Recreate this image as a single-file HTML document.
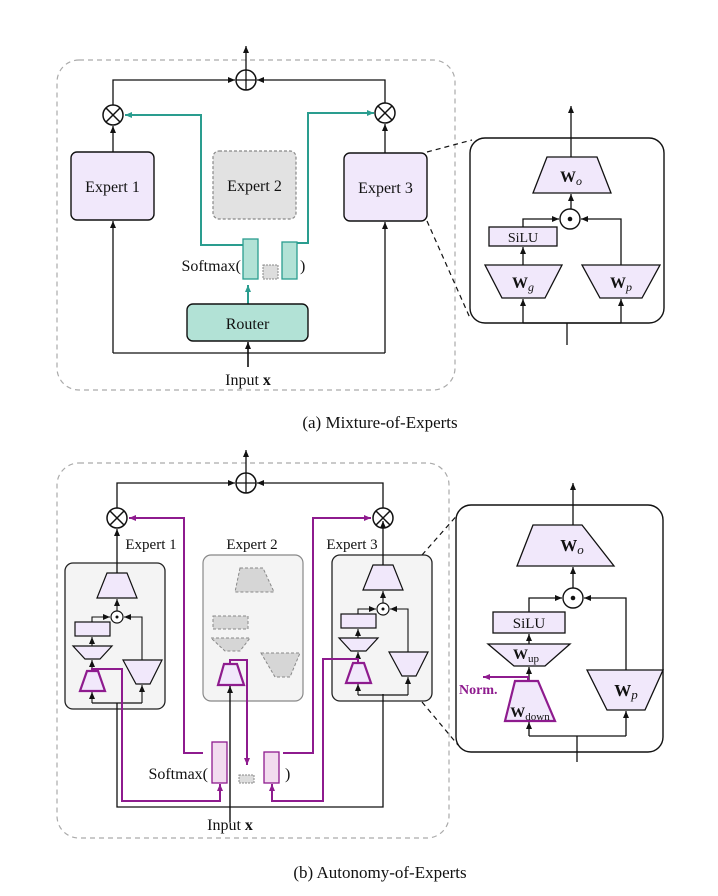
<!DOCTYPE html>
<html><head><meta charset="utf-8"><style>
html,body{margin:0;padding:0;background:#fff}
svg{display:block}
text{font-family:"Liberation Serif",serif;fill:#111}
</style></head><body>
<svg width="718" height="896" viewBox="0 0 718 896" xmlns="http://www.w3.org/2000/svg">
<defs>
<marker id="a" markerUnits="userSpaceOnUse" markerWidth="8" markerHeight="8" refX="7" refY="4" orient="auto"><path d="M0,1 L7,4 L0,7 z" fill="#111"/></marker>
<marker id="t" markerUnits="userSpaceOnUse" markerWidth="8" markerHeight="8" refX="7" refY="4" orient="auto"><path d="M0,1 L7,4 L0,7 z" fill="#2a9d8f"/></marker>
<marker id="p" markerUnits="userSpaceOnUse" markerWidth="8" markerHeight="8" refX="7" refY="4" orient="auto"><path d="M0,1 L7,4 L0,7 z" fill="#8e1b8e"/></marker>
</defs>

<!-- ============ TOP PANEL ============ -->
<rect x="57" y="60" width="398" height="330" rx="22" fill="none" stroke="#aaa" stroke-width="1.2" stroke-dasharray="5,4"/>
<!-- sum -->
<line x1="246" y1="70" x2="246" y2="46" stroke="#111" stroke-width="1.3" marker-end="url(#a)"/>
<path d="M113,105 V80 H235" fill="none" stroke="#111" stroke-width="1.3" marker-end="url(#a)"/>
<path d="M385,103 V80 H257" fill="none" stroke="#111" stroke-width="1.3" marker-end="url(#a)"/>
<circle cx="246" cy="80" r="10" fill="#fff" stroke="#111" stroke-width="1.5"/>
<path d="M236,80 H256 M246,70 V90" stroke="#111" stroke-width="1.3"/>
<!-- otimes -->
<g stroke="#111" stroke-width="1.5" fill="#fff">
<circle cx="113" cy="115" r="10"/><path d="M106,108 L120,122 M120,108 L106,122"/>
<circle cx="385" cy="113" r="10"/><path d="M378,106 L392,120 M392,106 L378,120"/>
</g>
<line x1="113" y1="152" x2="113" y2="126" stroke="#111" stroke-width="1.3" marker-end="url(#a)"/>
<line x1="385" y1="153" x2="385" y2="124" stroke="#111" stroke-width="1.3" marker-end="url(#a)"/>
<!-- experts -->
<rect x="71" y="152" width="83" height="68" rx="6" fill="#f1e8fb" stroke="#111" stroke-width="1.4"/>
<text x="112.5" y="192" font-size="16" text-anchor="middle">Expert 1</text>
<rect x="213" y="151" width="83" height="68" rx="6" fill="#e2e2e2" stroke="#888" stroke-width="1.2" stroke-dasharray="3,2"/>
<text x="254.5" y="191" font-size="16" text-anchor="middle">Expert 2</text>
<rect x="344" y="153" width="83" height="68" rx="6" fill="#f1e8fb" stroke="#111" stroke-width="1.4"/>
<text x="385.5" y="193" font-size="16" text-anchor="middle">Expert 3</text>
<!-- teal -->
<path d="M243,245 H201 V115 H125" fill="none" stroke="#2a9d8f" stroke-width="2" marker-end="url(#t)"/>
<path d="M297,243 H308 V113 H374" fill="none" stroke="#2a9d8f" stroke-width="2" marker-end="url(#t)"/>
<rect x="243" y="239" width="15" height="40" fill="#b2e2d6" stroke="#2a9d8f" stroke-width="1.3"/>
<rect x="263" y="265" width="15" height="14" fill="#ddd" stroke="#888" stroke-width="1" stroke-dasharray="2,1"/>
<rect x="282" y="242" width="15" height="37" fill="#b2e2d6" stroke="#2a9d8f" stroke-width="1.3"/>
<text x="241" y="271" font-size="16" text-anchor="end">Softmax(</text>
<text x="300" y="271" font-size="16">)</text>
<line x1="248" y1="304" x2="248" y2="285" stroke="#2a9d8f" stroke-width="2" marker-end="url(#t)"/>
<rect x="187" y="304" width="121" height="37" rx="6" fill="#b2e2d6" stroke="#111" stroke-width="1.4"/>
<text x="247.5" y="329" font-size="16" text-anchor="middle">Router</text>
<!-- bottom lines -->
<path d="M113,353 H385" fill="none" stroke="#111" stroke-width="1.3"/>
<line x1="113" y1="353" x2="113" y2="221" stroke="#111" stroke-width="1.3" marker-end="url(#a)"/>
<line x1="385" y1="353" x2="385" y2="222" stroke="#111" stroke-width="1.3" marker-end="url(#a)"/>
<line x1="248" y1="367" x2="248" y2="342" stroke="#111" stroke-width="1.6" marker-end="url(#a)"/>
<text x="248" y="385" font-size="16" text-anchor="middle">Input <tspan font-weight="bold">x</tspan></text>
<!-- zoom dashes -->
<path d="M427,152 L472,140 M427,221 L470,318" stroke="#111" stroke-width="1.2" stroke-dasharray="5,4"/>
<!-- detail top -->
<rect x="470" y="138" width="194" height="185" rx="15" fill="#fff" stroke="#111" stroke-width="1.4"/>
<line x1="571" y1="157" x2="571" y2="106" stroke="#111" stroke-width="1.3" marker-end="url(#a)"/>
<polygon points="547,157 597,157 611,193 533,193" fill="#f1e8fb" stroke="#111" stroke-width="1.3"/>
<text x="571" y="182" font-size="16" text-anchor="middle"><tspan font-weight="bold">W</tspan><tspan font-style="italic" font-size="12" dy="3">o</tspan></text>
<line x1="571" y1="209" x2="571" y2="194" stroke="#111" stroke-width="1.3" marker-end="url(#a)"/>
<path d="M523,227 V219 H559" fill="none" stroke="#111" stroke-width="1.3" marker-end="url(#a)"/>
<path d="M621,265 V219 H581" fill="none" stroke="#111" stroke-width="1.3" marker-end="url(#a)"/>
<circle cx="570" cy="219" r="10" fill="#fff" stroke="#111" stroke-width="1.4"/>
<circle cx="570" cy="219" r="2.3" fill="#111"/>
<rect x="489" y="227" width="68" height="19" fill="#f1e8fb" stroke="#111" stroke-width="1.3"/>
<text x="523" y="242" font-size="14" text-anchor="middle">SiLU</text>
<line x1="523" y1="265" x2="523" y2="247" stroke="#111" stroke-width="1.3" marker-end="url(#a)"/>
<polygon points="485,265 562,265 545,298 502,298" fill="#f1e8fb" stroke="#111" stroke-width="1.3"/>
<text x="523" y="288" font-size="16" text-anchor="middle"><tspan font-weight="bold">W</tspan><tspan font-style="italic" font-size="12" dy="3">g</tspan></text>
<polygon points="582,265 660,265 642,298 600,298" fill="#f1e8fb" stroke="#111" stroke-width="1.3"/>
<text x="621" y="288" font-size="16" text-anchor="middle"><tspan font-weight="bold">W</tspan><tspan font-style="italic" font-size="12" dy="3">p</tspan></text>
<path d="M523,323 H621" stroke="#111" stroke-width="1.3"/>
<line x1="523" y1="323" x2="523" y2="299" stroke="#111" stroke-width="1.3" marker-end="url(#a)"/>
<line x1="621" y1="323" x2="621" y2="299" stroke="#111" stroke-width="1.3" marker-end="url(#a)"/>
<line x1="567" y1="345" x2="567" y2="323" stroke="#111" stroke-width="1.3"/>
<text x="380" y="428" font-size="17" text-anchor="middle">(a) Mixture-of-Experts</text>

<!-- ============ BOTTOM PANEL ============ -->
<rect x="57" y="463" width="392" height="375" rx="22" fill="none" stroke="#aaa" stroke-width="1.2" stroke-dasharray="5,4"/>
<line x1="246" y1="473" x2="246" y2="450" stroke="#111" stroke-width="1.3" marker-end="url(#a)"/>
<path d="M117,508 V483 H235" fill="none" stroke="#111" stroke-width="1.3" marker-end="url(#a)"/>
<path d="M383,508 V483 H257" fill="none" stroke="#111" stroke-width="1.3" marker-end="url(#a)"/>
<circle cx="246" cy="483" r="10" fill="#fff" stroke="#111" stroke-width="1.5"/>
<path d="M236,483 H256 M246,473 V493" stroke="#111" stroke-width="1.3"/>
<g stroke="#111" stroke-width="1.5" fill="#fff">
<circle cx="117" cy="518" r="10"/><path d="M110,511 L124,525 M124,511 L110,525"/>
<circle cx="383" cy="518" r="10"/><path d="M376,511 L390,525 M390,511 L376,525"/>
</g>
<text x="151" y="549" font-size="15" text-anchor="middle">Expert 1</text>
<text x="252" y="549" font-size="15" text-anchor="middle">Expert 2</text>
<text x="352" y="549" font-size="15" text-anchor="middle">Expert 3</text>
<!-- zoom dashes -->
<path d="M422,555 L460,512 M422,702 L458,745" stroke="#111" stroke-width="1.2" stroke-dasharray="5,4"/>
<!-- Expert boxes -->
<rect x="65" y="563" width="100" height="146" rx="8" fill="#f4f4f4" stroke="#222" stroke-width="1.3"/>
<rect x="203" y="555" width="100" height="146" rx="8" fill="#f4f4f4" stroke="#888" stroke-width="1.2"/>
<rect x="332" y="555" width="100" height="146" rx="8" fill="#f4f4f4" stroke="#222" stroke-width="1.3"/>

<!-- Expert1 internals -->
<g id="e1">
<line x1="117" y1="573" x2="117" y2="529" stroke="#111" stroke-width="1.3" marker-end="url(#a)"/>
<polygon points="107,573 127,573 137,598 97,598" fill="#f1e8fb" stroke="#111" stroke-width="1.2"/>
<line x1="117" y1="611" x2="117" y2="599" stroke="#111" stroke-width="1.1" marker-end="url(#a)"/>
<path d="M92,622 V617 H110" fill="none" stroke="#111" stroke-width="1.1" marker-end="url(#a)"/>
<path d="M142,660 V617 H124" fill="none" stroke="#111" stroke-width="1.1" marker-end="url(#a)"/>
<circle cx="117" cy="617" r="6" fill="#fff" stroke="#111" stroke-width="1.2"/>
<circle cx="117" cy="617" r="1.5" fill="#111"/>
<rect x="75" y="622" width="35" height="14" fill="#f1e8fb" stroke="#111" stroke-width="1.2"/>
<line x1="92" y1="646" x2="92" y2="637" stroke="#111" stroke-width="1.1" marker-end="url(#a)"/>
<polygon points="73,646 112,646 100,659 85,659" fill="#f1e8fb" stroke="#111" stroke-width="1.2"/>
<line x1="92" y1="671" x2="92" y2="660" stroke="#111" stroke-width="1.1" marker-end="url(#a)"/>
<polygon points="87,671 98,671 105,691 80,691" fill="#f1e8fb" stroke="#8e1b8e" stroke-width="2.2"/>
<polygon points="123,660 162,660 150,684 136,684" fill="#f1e8fb" stroke="#111" stroke-width="1.2"/>
<path d="M92,703 H142" stroke="#111" stroke-width="1.2"/>
<line x1="92" y1="703" x2="92" y2="692" stroke="#111" stroke-width="1.1" marker-end="url(#a)"/>
<line x1="142" y1="703" x2="142" y2="685" stroke="#111" stroke-width="1.1" marker-end="url(#a)"/>
</g>
<use href="#e1" transform="translate(266,-8)"/>

<!-- Expert2 internals (dashed) -->
<g fill="#d6d6d6" stroke="#888" stroke-width="1" stroke-dasharray="3,2">
<polygon points="240,568 263,568 274,592 235,592"/>
<rect x="213" y="616" width="35" height="13"/>
<polygon points="211,638 250,638 240,651 225,651"/>
<polygon points="261,653 300,653 290,677 275,677"/>
</g>
<polygon points="224,664 237,664 244,685 218,685" fill="#f1e8fb" stroke="#8e1b8e" stroke-width="2.2"/>

<!-- purple routes -->
<g fill="none" stroke="#8e1b8e" stroke-width="2">
<path d="M203,753 H184 V518 H129" marker-end="url(#p)"/>
<path d="M283,753 H313 V518 H371" marker-end="url(#p)"/>
<path d="M230,664 V660 H247 V765" marker-end="url(#p)"/>
<path d="M92,671 V669 H122 V801 H220 V784" marker-end="url(#p)"/>
<path d="M358,663 V659 H323 V801 H272 V784" marker-end="url(#p)"/>
</g>
<rect x="212" y="742" width="15" height="41" fill="#f2dcef" stroke="#8e1b8e" stroke-width="1.3"/>
<rect x="239" y="775" width="15" height="8" fill="#ddd" stroke="#888" stroke-width="1" stroke-dasharray="2,1"/>
<rect x="264" y="752" width="15" height="31" fill="#f2dcef" stroke="#8e1b8e" stroke-width="1.3"/>
<text x="208" y="779" font-size="16" text-anchor="end">Softmax(</text>
<text x="285" y="779" font-size="16">)</text>

<!-- black bottom -->
<path d="M117,703 V807 H383 V694" fill="none" stroke="#111" stroke-width="1.3"/>
<line x1="230" y1="822" x2="230" y2="686" stroke="#111" stroke-width="1.4" marker-end="url(#a)"/>
<text x="230" y="830" font-size="16" text-anchor="middle">Input <tspan font-weight="bold">x</tspan></text>

<!-- detail bottom -->
<rect x="456" y="505" width="207" height="247" rx="15" fill="#fff" stroke="#111" stroke-width="1.4"/>
<line x1="573" y1="525" x2="573" y2="483" stroke="#111" stroke-width="1.3" marker-end="url(#a)"/>
<polygon points="533,525 582,525 614,566 517,566" fill="#f1e8fb" stroke="#111" stroke-width="1.3"/>
<text x="572" y="551" font-size="17" text-anchor="middle"><tspan font-weight="bold">W</tspan><tspan font-style="italic" font-size="13" dy="3">o</tspan></text>
<line x1="573" y1="588" x2="573" y2="567" stroke="#111" stroke-width="1.3" marker-end="url(#a)"/>
<path d="M529,612 V598 H562" fill="none" stroke="#111" stroke-width="1.3" marker-end="url(#a)"/>
<path d="M626,670 V598 H584" fill="none" stroke="#111" stroke-width="1.3" marker-end="url(#a)"/>
<circle cx="573" cy="598" r="10" fill="#fff" stroke="#111" stroke-width="1.4"/>
<circle cx="573" cy="598" r="2.3" fill="#111"/>
<rect x="493" y="612" width="72" height="21" fill="#f1e8fb" stroke="#111" stroke-width="1.3"/>
<text x="529" y="628" font-size="15" text-anchor="middle">SiLU</text>
<line x1="529" y1="644" x2="529" y2="634" stroke="#111" stroke-width="1.3" marker-end="url(#a)"/>
<polygon points="488,644 570,644 545,666 514,666" fill="#f1e8fb" stroke="#111" stroke-width="1.3"/>
<text x="526" y="659" font-size="15" text-anchor="middle"><tspan font-weight="bold">W</tspan><tspan font-size="11" dy="3">up</tspan></text>
<line x1="529" y1="681" x2="529" y2="667" stroke="#111" stroke-width="1.3" marker-end="url(#a)"/>
<polygon points="515,681 538,681 555,721 505,721" fill="#f1e8fb" stroke="#8e1b8e" stroke-width="2.2"/>
<text x="530" y="717" font-size="15" text-anchor="middle"><tspan font-weight="bold">W</tspan><tspan font-size="11" dy="3">down</tspan></text>
<path d="M528,681 V677 H483" fill="none" stroke="#8e1b8e" stroke-width="2" marker-end="url(#p)"/>
<text x="459" y="694" font-size="14" font-weight="bold" style="fill:#8e1b8e">Norm.</text>
<polygon points="587,670 663,670 645,710 607,710" fill="#f1e8fb" stroke="#111" stroke-width="1.3"/>
<text x="626" y="696" font-size="17" text-anchor="middle"><tspan font-weight="bold">W</tspan><tspan font-style="italic" font-size="13" dy="3">p</tspan></text>
<path d="M529,736 H626" stroke="#111" stroke-width="1.3"/>
<line x1="529" y1="736" x2="529" y2="722" stroke="#111" stroke-width="1.3" marker-end="url(#a)"/>
<line x1="626" y1="736" x2="626" y2="711" stroke="#111" stroke-width="1.3" marker-end="url(#a)"/>
<line x1="577" y1="762" x2="577" y2="736" stroke="#111" stroke-width="1.3"/>
<text x="380" y="878" font-size="17" text-anchor="middle">(b) Autonomy-of-Experts</text>
</svg>
</body></html>
